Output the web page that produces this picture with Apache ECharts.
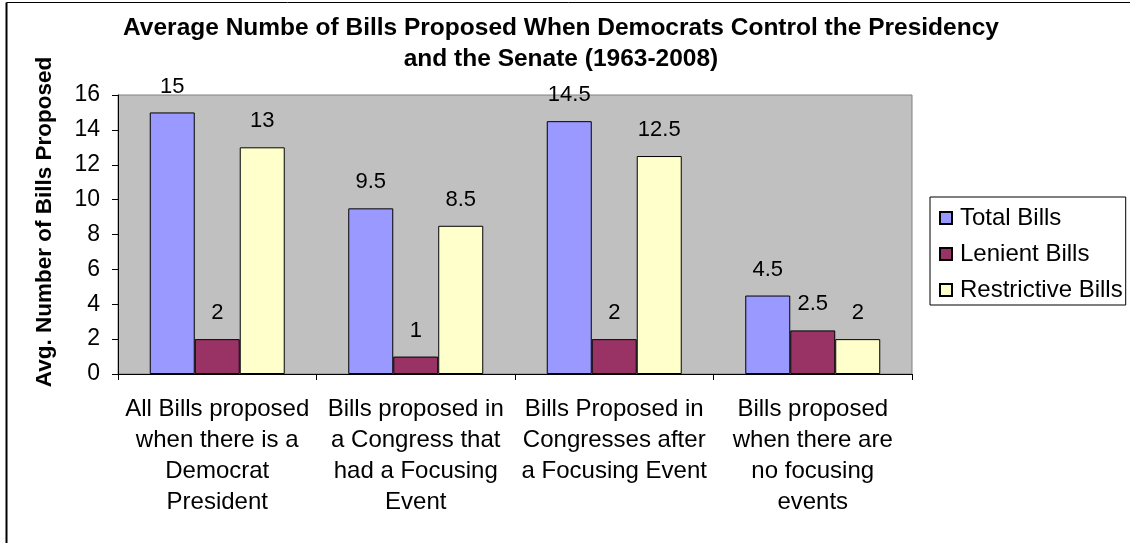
<!DOCTYPE html>
<html>
<head>
<meta charset="utf-8">
<script src="https://cdn.jsdelivr.net/npm/echarts@6/dist/echarts.min.js"></script>
<style>html,body{margin:0;padding:0;background:#fff}#c{width:1130px;height:543px}</style>
</head>
<body>
<div id="c"></div>
<script>
const categories = [
  "All Bills proposed\nwhen there is a\nDemocrat\nPresident",
  "Bills proposed in\na Congress that\nhad a Focusing\nEvent",
  "Bills Proposed in\nCongresses after\na Focusing Event",
  "Bills proposed\nwhen there are\nno focusing\nevents"
];
const totalBills = [15, 9.5, 14.5, 4.5];
const lenientBills = [2, 1, 2, 2.5];
const restrictiveBills = [13, 8.5, 12.5, 2];
const yTicks = { min: 0, max: 16, interval: 2 };

const font = "Arial, 'Liberation Sans', sans-serif";
const chart = echarts.init(document.getElementById('c'));
function mk(name, data, color) {
  return {
    name, type: 'bar', data,
    barGap: '0%', barCategoryGap: '32%',
    itemStyle: { color, borderColor: '#000', borderWidth: 1 },
    label: { show: true, position: 'top', distance: 15, color: '#000', fontSize: 22, fontFamily: font }
  };
}
chart.setOption({
  animation: false,
  title: {
    text: 'Average Numbe of Bills Proposed When Democrats Control the Presidency\nand the Senate (1963-2008)',
    left: 556, top: 8, textAlign: 'center',
    textStyle: { fontSize: 24.5, fontWeight: 'bold', fontFamily: font, color: '#000', lineHeight: 31 }
  },
  legend: {
    orient: 'vertical', left: 930, top: 197,
    itemWidth: 12, itemHeight: 12, itemGap: 12, padding: [9, 3, 3, 9],
    borderColor: '#000', borderWidth: 1, borderRadius: 0,
    icon: 'rect',
    textStyle: { fontSize: 24, fontFamily: font, color: '#000', padding: [0, 0, 0, 3] },
    data: ['Total Bills', 'Lenient Bills', 'Restrictive Bills']
  },
  grid: { left: 118, right: 218, top: 95, bottom: 169, backgroundColor: '#C0C0C0', show: true, borderColor: '#808080', borderWidth: 1 },
  xAxis: {
    type: 'category', data: categories,
    axisLine: { lineStyle: { color: '#000', width: 1 } },
    axisTick: { show: true, length: 6, lineStyle: { color: '#000' } },
    axisLabel: { interval: 0, margin: 20, lineHeight: 31, fontSize: 24, fontFamily: font, color: '#000', align: 'center' }
  },
  yAxis: {
    type: 'value', min: yTicks.min, max: yTicks.max, interval: yTicks.interval,
    axisLine: { show: true, lineStyle: { color: '#000' } },
    axisTick: { show: true, length: 6, lineStyle: { color: '#000' } },
    splitLine: { show: false },
    axisLabel: { fontSize: 23, fontFamily: font, color: '#000', margin: 18 }
  },
  series: [
    mk('Total Bills', totalBills, '#9999FF'),
    mk('Lenient Bills', lenientBills, '#993366'),
    mk('Restrictive Bills', restrictiveBills, '#FFFFCC')
  ],
  graphic: [
    { type: 'line', shape: { x1: 6.5, y1: 2.5, x2: 1130, y2: 2.5 }, style: { stroke: '#000', lineWidth: 1 } },
    { type: 'line', shape: { x1: 6.5, y1: 2.5, x2: 6.5, y2: 543 }, style: { stroke: '#000', lineWidth: 2 } },
    { type: 'text', x: 45, y: 222, rotation: Math.PI / 2,
      style: { text: 'Avg. Number of Bills Proposed', font: "bold 22.5px Arial, 'Liberation Sans', sans-serif", fill: '#000', align: 'center', verticalAlign: 'middle' } }
  ]
});
</script>
</body>
</html>
